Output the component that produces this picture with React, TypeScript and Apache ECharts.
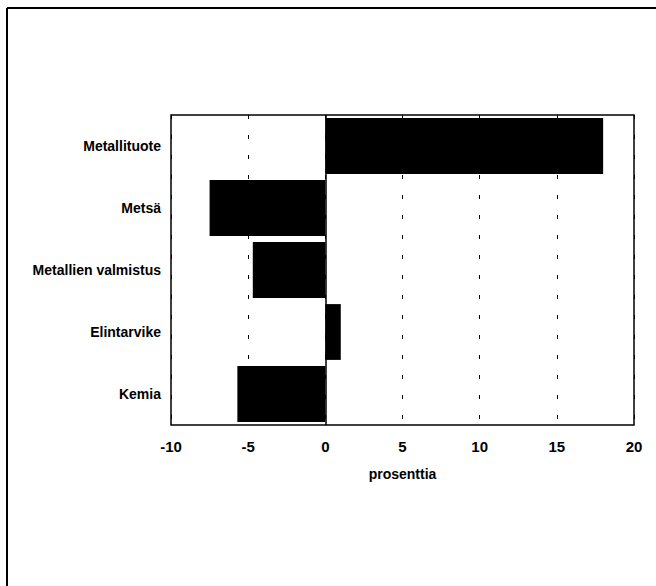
import React, { useEffect, useRef } from "react";
import * as echarts from "echarts";

const categories: string[] = ["Metallituote", "Metsä", "Metallien valmistus", "Elintarvike", "Kemia"];
const values: number[] = [18.0, -7.5, -4.7, 1.0, -5.7];
const axisName = "prosenttia";
const xMin = -10;
const xMax = 20;
const xInterval = 5;

const FONT = "'Liberation Sans', Arial, Helvetica, sans-serif";

export default function App() {
  const ref = useRef<HTMLDivElement>(null);
  useEffect(() => {
    if (!ref.current) return;
    const chart = echarts.init(ref.current, undefined, { renderer: "svg" });
    chart.setOption({
      animation: false,
      backgroundColor: "#ffffff",
      textStyle: { fontFamily: FONT },
      grid: {
        left: 171,
        right: 22,
        top: 115,
        bottom: 161,
        show: true,
        borderColor: "#000",
        borderWidth: 1.5,
        backgroundColor: "transparent",
      },
      xAxis: {
        type: "value",
        min: xMin,
        max: xMax,
        interval: xInterval,
        name: axisName,
        nameLocation: "middle",
        nameGap: 42,
        nameTextStyle: { color: "#000", fontSize: 14, fontWeight: "bold", fontFamily: FONT },
        axisLine: { show: false },
        axisTick: { show: false },
        axisLabel: { color: "#000", fontSize: 15, fontWeight: "bold", fontFamily: FONT, margin: 14 },
        splitLine: {
          show: true,
          lineStyle: { color: "#000", width: 1, type: [4, 16] },
        },
      },
      yAxis: {
        type: "category",
        data: categories,
        inverse: true,
        axisLine: { show: false },
        axisTick: { show: false },
        axisLabel: { color: "#000", fontSize: 14, fontWeight: "bold", fontFamily: FONT, margin: 10 },
        splitLine: { show: false },
      },
      series: [
        {
          type: "bar",
          data: values,
          barCategoryGap: "10%",
          itemStyle: { color: "#000" },
          markLine: {
            silent: true,
            symbol: "none",
            label: { show: false },
            lineStyle: { color: "#000", width: 1.5, type: "solid" },
            data: [{ xAxis: 0 }],
          },
        },
      ],
      graphic: [
        {
          type: "line",
          shape: { x1: 7, y1: 8, x2: 656, y2: 8 },
          style: { stroke: "#000", lineWidth: 2 },
        },
        {
          type: "line",
          shape: { x1: 7, y1: 8, x2: 7, y2: 586 },
          style: { stroke: "#000", lineWidth: 2 },
        },
      ],
    });
    return () => chart.dispose();
  }, []);
  return (
    <div
      ref={ref}
      style={{ position: "fixed", left: 0, top: 0, width: 656, height: 586, background: "#fff" }}
    />
  );
}
